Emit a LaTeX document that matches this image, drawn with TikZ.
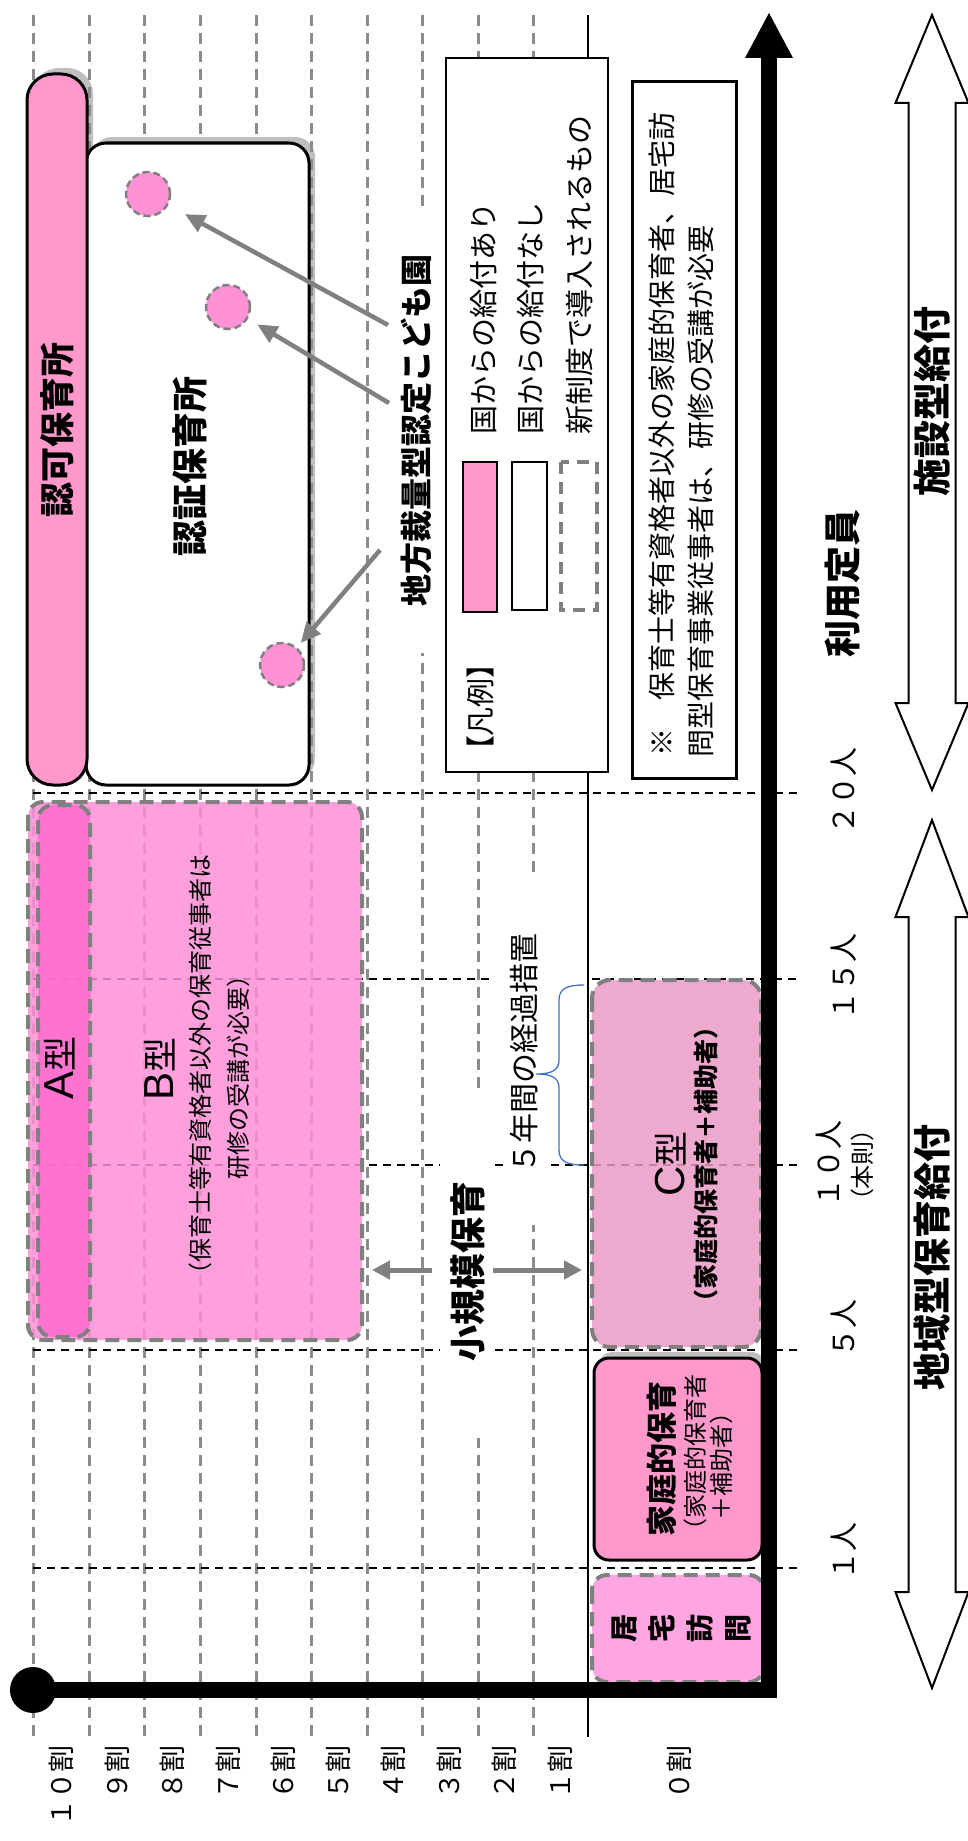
\documentclass[tikz,border=0pt]{standalone}
\usepackage{fontspec}
\setmainfont{Noto Sans CJK JP}
\newfontfamily\latf{Liberation Sans}
\usetikzlibrary{arrows.meta,calc}
\definecolor{pinkmain}{RGB}{255,153,204}
\definecolor{pinkB}{RGB}{255,143,214}
\definecolor{pinkA}{RGB}{255,100,205}
\definecolor{pinkC}{RGB}{235,155,197}
\definecolor{pinkD}{RGB}{255,165,225}
\definecolor{circpink}{RGB}{255,146,214}
\definecolor{gridgray}{RGB}{140,140,140}
\definecolor{bordgray}{RGB}{128,128,128}
\definecolor{shadowgray}{RGB}{191,191,191}
\definecolor{bracecol}{RGB}{68,114,196}
\newcommand\fsz[1]{\fontsize{#1}{#1}\selectfont}
\begin{document}
\begin{tikzpicture}[x=1pt,y=-1pt,
  gridline/.style={draw=gridgray,line width=3pt,dash pattern=on 11pt off 7pt},
  hline/.style={draw=black,line width=2pt,dash pattern=on 8pt off 6pt},
  gbord/.style={draw=bordgray,line width=4pt,dash pattern=on 14pt off 8pt},
  circ/.style={circle,minimum size=44pt,inner sep=0pt,outer sep=0pt,fill=circpink,draw=bordgray,line width=2.5pt,dash pattern=on 7pt off 4pt},
  garrow/.style={draw=bordgray,line width=4.5pt,-{Triangle[length=20pt,width=18pt]}},
  jt/.style={rotate=90,inner sep=0pt,outer sep=0pt},
  dblarrow/.style={draw=black,line width=2pt,fill=white,line join=miter}
]
\useasboundingbox (0,0) rectangle (968,1841);

% shadows
\fill[shadowgray,rounded corners=20pt] (92,137) rectangle (315,779);
\fill[shadowgray,rounded corners=26pt] (33,68) rectangle (93,779);
\fill[shadowgray,rounded corners=15pt] (598,1352) rectangle (766,1556);

% grid
\foreach \x in {33,89,144,200,256,311,367,422,478,533}
  \draw[gridline] (\x,15) -- (\x,1737);

% horizontal dashed lines
\draw[hline] (33,793) -- (799,793);
\draw[hline] (33,979) -- (490,979);
\draw[hline] (592,979) -- (799,979);
\draw[hline] (33,1165) -- (799,1165);
\draw[hline] (33,1350) -- (799,1350);
\draw[hline] (33,1568) -- (799,1568);

% thin vertical line
\draw[line width=2.5pt] (588,15) -- (588,1737);

% 認証 box and 認可 bar
\draw[line width=3pt,fill=white,rounded corners=20pt] (86,143) rectangle (309,785);
\draw[line width=3pt,fill=pinkmain,rounded corners=26pt] (27,74) rectangle (87,785);

% circles
\node[circ] (c1) at (148,194) {};
\node[circ] (c2) at (228,307) {};
\node[circ] (c3) at (282,665) {};

% legend
\draw[line width=1.5pt,fill=white] (446,58) rectangle (608,772);
\draw[line width=1.2pt,fill=pinkmain] (463,462) rectangle (497,612);
\draw[line width=1.2pt,fill=white] (512,462) rectangle (547,610);
\draw[draw=bordgray,line width=3.5pt,dash pattern=on 12pt off 8pt] (561,462) rectangle (597,610);

% note box
\draw[line width=3pt,fill=white] (632,82) rectangle (736,778);

% A / B boxes
\draw[gbord,fill=pinkB,fill opacity=0.85,rounded corners=15pt] (28,802) rectangle (362,1340);
\draw[gbord,fill=pinkA,fill opacity=0.75,rounded corners=15pt] (38,805) rectangle (90,1337);

% C box
\draw[gbord,fill=pinkC,fill opacity=0.85,rounded corners=18pt] (592,980) rectangle (761,1347);

% 家庭的保育 box
\draw[line width=3pt,fill=pinkmain,rounded corners=15pt] (594,1358) rectangle (762,1560);

% 居宅訪問 box
\draw[gbord,fill=pinkD,rounded corners=15pt] (592,1575) rectangle (764,1682);

% white text backgrounds
\fill[white] (395,207) rectangle (440,653);
\fill[white] (440,1093) rectangle (495,1438);
\fill[white] (503,877) rectangle (550,1225);

% axes
\draw[line width=16pt,line join=miter] (33,1690) -- (769,1690) -- (769,56);
\fill (745,58) -- (769,13) -- (793,58) -- cycle;
\fill (33,1690) circle (23pt);

% double arrows
\draw[dblarrow] (932,15) -- (968.5,103) -- (955.5,103) -- (955.5,703) -- (968.5,703) -- (932,790) -- (895.5,703) -- (908.5,703) -- (908.5,103) -- (895.5,103) -- cycle;
\draw[dblarrow] (932,820) -- (968.5,917) -- (955.5,917) -- (955.5,1592) -- (968.5,1592) -- (932,1688) -- (895.5,1592) -- (908.5,1592) -- (908.5,917) -- (895.5,917) -- cycle;

% brace
\draw[bracecol,line width=1.3pt] (584,985) .. controls (568,985) and (559,988) .. (559,1000) -- (559,1060) .. controls (559,1070) and (552,1074) .. (536,1074) .. controls (552,1074) and (559,1078) .. (559,1088) -- (559,1150) .. controls (559,1162) and (568,1165) .. (584,1165);

% texts
\node[jt,font=\fsz{35}\bfseries] (ninka) at (57,430) {認可保育所};
\node[jt,font=\fsz{36}\bfseries] (ninsho) at (190,466) {認証保育所};
\node[jt,font=\fsz{32}\bfseries] (chiho) at (416,430) {地方裁量型認定こども園};

\coordinate (s1) at (388,325);
\coordinate (s2) at (389,403);
\coordinate (s3) at (380,550);
\draw[garrow,shorten >=20pt] (s1) -- (c1);
\draw[garrow,shorten >=12pt] (s2) -- (c2);
\draw[garrow,shorten >=7pt] (s3) -- (c3);

\node[jt,font=\fsz{29}\addfontfeature{RawFeature=+palt}] (hanrei) at (480,707) {【凡例】};
\node[jt,font=\fsz{29},anchor=west] (l1) at (484,434) {国からの給付あり};
\node[jt,font=\fsz{29},anchor=west] (l2) at (531,434) {国からの給付なし};
\node[jt,font=\fsz{29},anchor=west] (l3) at (580,434) {新制度で導入されるもの};

\node[jt,font=\fsz{28},anchor=west] (n1) at (662,756) {※　保育士等有資格者以外の家庭的保育者、居宅訪};
\node[jt,font=\fsz{28},anchor=west] (n2) at (701,757) {問型保育事業従事者は、研修の受講が必要};

\node[jt,font=\fsz{37}\bfseries] (riyo) at (843,583) {利用定員};
\node[jt,font=\fsz{38}\bfseries] (shisetsu) at (932,401) {施設型給付};
\node[jt,font=\fsz{38}\bfseries] (chiiki) at (932,1257) {地域型保育給付};

\foreach \x/\t [count=\i] in {61/１０割,117/９割,172/８割,228/７割,283/６割,338/５割,393/４割,449/３割,504/２割,560/１割,679/０割}
  \node[jt,font=\fsz{27},anchor=east] (wari\i) at (\x,1745) {\t};

\node[jt,font=\fsz{29},anchor=east] (p20) at (844,747) {２０人};
\node[jt,font=\fsz{29},anchor=east] (p15) at (844,933) {１５人};
\node[jt,font=\fsz{29},anchor=east] (p10) at (829,1120) {１０人};
\node[jt,font=\fsz{24}\addfontfeature{RawFeature=+palt}] (honsoku) at (862,1165) {（本則）};
\node[jt,font=\fsz{29},anchor=east] (p5) at (844,1299) {５人};
\node[jt,font=\fsz{29},anchor=east] (p1) at (844,1522) {１人};

\node[jt,font=\fsz{35}] (atype) at (60,1068) {{\latf\fsz{42}A}型};
\node[jt,font=\fsz{35}] (btype) at (160,1069) {{\latf\fsz{42}B}型};
\node[jt,font=\fsz{24}] (bt2) at (200,1070) {（保育士等有資格者以外の保育従事者は};
\node[jt,font=\fsz{24}] (bt3) at (238,1071) {研修の受講が必要）};

\node[jt,font=\fsz{35}] (ctype) at (671,1164) {{\latf\fsz{42}C}型};
\node[jt,font=\fsz{25}\bfseries] (ct2) at (706,1164) {（家庭的保育者＋補助者）};

\node[jt,font=\fsz{31}\bfseries] (katei) at (662,1459) {家庭的保育};
\node[jt,font=\fsz{24}] (katei2) at (695,1458) {（家庭的保育者};
\node[jt,font=\fsz{24}] (katei3) at (721,1460) {＋補助者）};

\node[jt,font=\fontsize{28}{38}\selectfont\bfseries,align=center] (kyotaku) at (682,1628) {居\\宅\\訪\\問};

\node[jt,font=\fsz{30}] (keika) at (524,1053) {５年間の経過措置};
\node[jt,font=\fsz{36}\bfseries] (shokibo) at (468,1271) {小規模保育};
\coordinate (skl) at (432,1270);
\coordinate (skle) at (372,1270);
\coordinate (skr) at (493,1270);
\coordinate (skre) at (582,1270);
\draw[draw=bordgray,line width=5pt,-{Triangle[length=18pt,width=18pt]}] (skl) -- (skle);
\draw[draw=bordgray,line width=5pt,-{Triangle[length=18pt,width=18pt]}] (skr) -- (skre);
\end{tikzpicture}
\end{document}
